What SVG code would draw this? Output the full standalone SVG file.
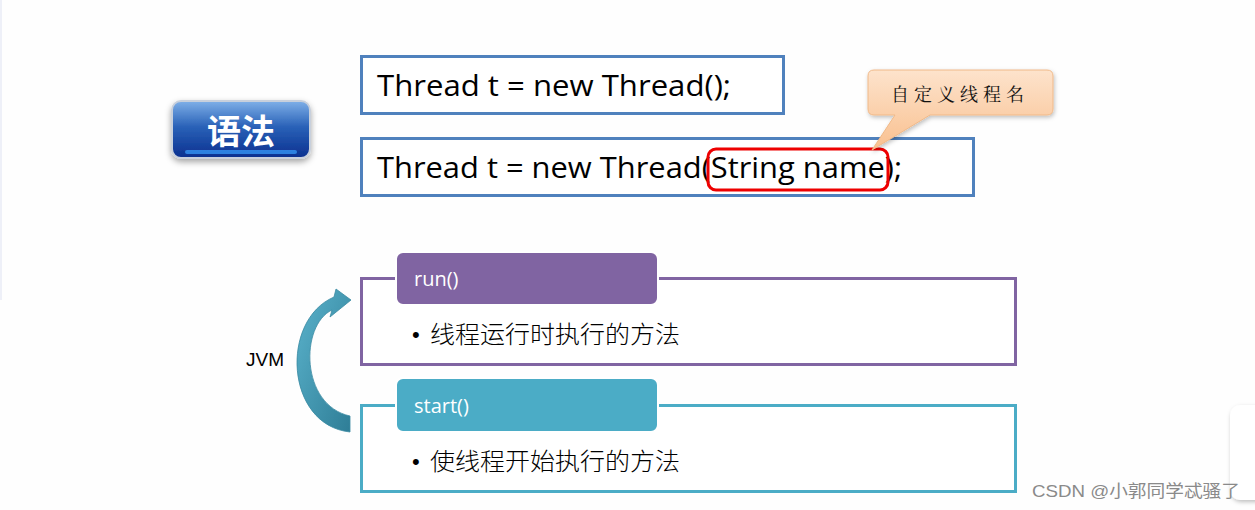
<svg xmlns="http://www.w3.org/2000/svg" width="1255" height="510" viewBox="0 0 1255 510">
<defs>
<linearGradient id="btn" x1="0" y1="0" x2="0" y2="1">
<stop offset="0" stop-color="#7fb0e8"/><stop offset="0.45" stop-color="#2a62b8"/><stop offset="1" stop-color="#0a2f8f"/>
</linearGradient>
<linearGradient id="peach" x1="0" y1="0" x2="0" y2="1">
<stop offset="0" stop-color="#fde3cc"/><stop offset="1" stop-color="#f9c08f"/>
</linearGradient>
<linearGradient id="arc" x1="0" y1="0" x2="1" y2="1">
<stop offset="0" stop-color="#5bb3cc"/><stop offset="1" stop-color="#2e7d96"/>
</linearGradient>
<filter id="sh" x="-20%" y="-20%" width="140%" height="150%">
<feDropShadow dx="0" dy="3" stdDeviation="3" flood-color="#000" flood-opacity="0.35"/>
</filter>
<filter id="sh2" x="-20%" y="-20%" width="140%" height="150%">
<feDropShadow dx="1" dy="2" stdDeviation="2" flood-color="#000" flood-opacity="0.25"/>
</filter>
</defs>
<style>
.code{font-family:"Open Sans","Liberation Sans",sans-serif;font-size:29px;fill:#000}
.box{fill:#fff;stroke:#4f81bd;stroke-width:3}
.cn{font-family:"Noto Sans CJK SC",sans-serif;font-size:24px;font-weight:300;fill:#000}
.bul{font-family:"Liberation Sans",sans-serif;font-size:22px;fill:#000}
.hd{font-family:"Open Sans","Liberation Sans",sans-serif;font-size:20px;fill:#fff}
</style>
<rect width="1255" height="510" fill="#fefefe"/>
<rect x="0" y="0" width="2" height="300" fill="#eef0f8"/>

<g id="syntax-button">
<rect x="172" y="101" width="138" height="57" rx="9" fill="url(#btn)" stroke="#c8d0dc" stroke-width="2" filter="url(#sh)"/>
<rect x="185" y="150" width="112" height="4" rx="2" fill="#3aa0ff" opacity="0.7"/>
<text x="241" y="144" text-anchor="middle" font-family="Noto Sans CJK SC,sans-serif" font-size="34" font-weight="bold" fill="#fff">语法</text>
</g>

<g id="code1">
<rect class="box" x="361.5" y="56.5" width="422" height="57"/>
<text class="code" x="377" y="96" textLength="354" lengthAdjust="spacingAndGlyphs">Thread t = new Thread();</text>
</g>

<g id="code2">
<rect class="box" x="361.5" y="138.5" width="612" height="57"/>
<text class="code" x="377" y="178" textLength="525" lengthAdjust="spacingAndGlyphs">Thread t = new Thread(String name);</text>
<rect x="708" y="149" width="180" height="41" rx="8" fill="none" stroke="#ee0000" stroke-width="3"/>
</g>

<g id="callout">
<path d="M874,70 H1047 Q1053,70 1053,76 V109 Q1053,115 1047,115 H930 L872,150 L895,115 H874 Q868,115 868,109 V76 Q868,70 874,70 Z" fill="url(#peach)" stroke="#f0b988" stroke-width="1" filter="url(#sh2)"/>
<text x="960" y="101" text-anchor="middle" font-family="Noto Serif CJK SC,Noto Sans CJK SC,serif" font-size="18" letter-spacing="5" fill="#111">自定义线程名</text>
</g>

<g id="run">
<rect x="361.5" y="278.5" width="654" height="86" fill="#fff" stroke="#8064a2" stroke-width="3"/>
<rect x="396" y="252" width="262" height="53" rx="7" fill="#8064a2" stroke="#fff" stroke-width="2"/>
<text class="hd" x="414" y="286">run()</text>
<text class="bul" x="412" y="342">•</text>
<text class="cn" x="430" y="343" textLength="250" lengthAdjust="spacingAndGlyphs">线程运行时执行的方法</text>
</g>

<g id="start">
<rect x="361.5" y="405.5" width="654" height="86" fill="#fff" stroke="#4bacc6" stroke-width="3"/>
<rect x="396" y="378" width="262" height="54" rx="7" fill="#4bacc6" stroke="#fff" stroke-width="2"/>
<text class="hd" x="414" y="413">start()</text>
<text class="bul" x="412" y="469">•</text>
<text class="cn" x="430" y="470" textLength="250" lengthAdjust="spacingAndGlyphs">使线程开始执行的方法</text>
</g>

<g id="connectors">
<path d="M350,432 C285,425 280,320 334,297 L336,289 L351,300 L330,317 L332,310 C300,325 300,405 350,416 Z" fill="url(#arc)" stroke="#3a8aa2" stroke-width="0.8"/>
</g>
<text x="246" y="366" font-family="Liberation Sans,Arial,sans-serif" font-size="19" fill="#000">JVM</text>

<rect x="1230" y="405" width="40" height="95" rx="10" fill="#fff" filter="url(#sh2)"/>
<text x="1032" y="497" font-family="Liberation Sans,Noto Sans CJK SC,sans-serif" font-size="17" fill="#8a8a8a" textLength="208" lengthAdjust="spacingAndGlyphs">CSDN @小郭同学忒骚了</text>
</svg>
